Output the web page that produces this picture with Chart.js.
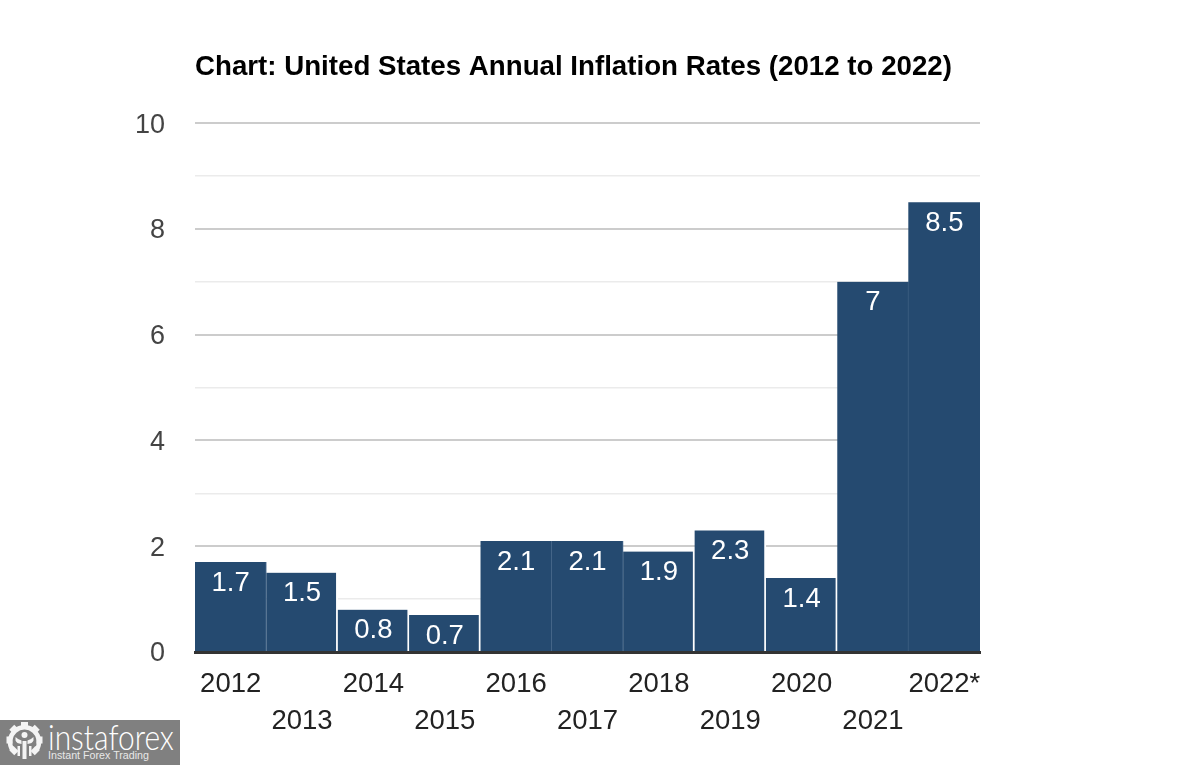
<!DOCTYPE html>
<html>
<head>
<meta charset="utf-8">
<title>United States Annual Inflation Rates</title>
<script src="https://cdn.jsdelivr.net/npm/chart.js@4/dist/chart.umd.min.js"></script>
<style>
html, body { margin: 0; padding: 0; background: #fff; }
#wrap { position: relative; width: 1200px; height: 765px; overflow: hidden; }
#logo { position: absolute; left: 0; top: 720px; width: 180px; height: 45px; background: #808080; color: #ffffff; overflow: hidden; }
#logo svg { position: absolute; left: 6px; top: 2px; }
#logo .name { position: absolute; left: 48px; top: -3px; font: 300 35px Lato, sans-serif; line-height: 38px; transform: scaleX(0.855); transform-origin: left top; white-space: nowrap; }
#logo .sub { position: absolute; left: 48px; top: 28px; font: 10.7px "Liberation Sans", sans-serif; line-height: 14px; color: #e8e8e8; white-space: nowrap; }
</style>
</head>
<body>
<div id="wrap">
  <canvas id="inflationChart" width="1200" height="765"></canvas>
  <div id="logo">
    <svg width="37" height="38" viewBox="0 0 36 38">
      <g fill="#f4f4f4">
        <rect x="14.5" y="0" width="7" height="6"/>
        <rect x="14.5" y="0" width="7" height="6" transform="rotate(45 18 18)"/>
        <rect x="14.5" y="0" width="7" height="6" transform="rotate(-45 18 18)"/>
        <rect x="14.5" y="0" width="7" height="6" transform="rotate(90 18 18)"/>
        <rect x="14.5" y="0" width="7" height="6" transform="rotate(-90 18 18)"/>
        <rect x="14.5" y="0" width="7" height="6" transform="rotate(135 18 18)"/>
        <rect x="14.5" y="0" width="7" height="6" transform="rotate(-135 18 18)"/>
      </g>
      <path d="M6 28 A14.5 14.5 0 1 1 30 28" fill="none" stroke="#f4f4f4" stroke-width="4.5"/>
      <circle cx="18" cy="13" r="3" fill="#f4f4f4"/>
      <path d="M16 19 h4 v18 h-4z M9 15 q3 3 6 3.5 v3.5 q-5 -0.5 -6 -3.5z M27 15 q-3 3 -6 3.5 v3.5 q5 -0.5 6 -3.5z M11 24 h2.5 v10 h-2.5z M22.5 24 h2.5 v10 h-2.5z" fill="#f4f4f4"/>
    </svg>
    <div class="name">instaforex</div>
    <div class="sub">Instant Forex Trading</div>
  </div>
</div>
<script>
// Chart data
const years = ['2012', '2013', '2014', '2015', '2016', '2017', '2018', '2019', '2020', '2021', '2022*'];
const rates = [1.7, 1.5, 0.8, 0.7, 2.1, 2.1, 1.9, 2.3, 1.4, 7, 8.5];
const chartTitle = 'Chart: United States Annual Inflation Rates (2012 to 2022)';

const fontFamily = '"Liberation Sans", Arial, sans-serif';
const barColor = '#254a70';

// Bars followed by a white gap, the others only have a faint seam
const whiteGapAfter = [1, 2, 3, 6, 7, 8];

// Value labels inside the top of each bar
const barLabels = {
    id: 'barLabels',
    afterDatasetsDraw(chart) {
        const ctx = chart.ctx;
        const bars = chart.getDatasetMeta(0).data;
        ctx.save();
        ctx.fillStyle = '#ffffff';
        ctx.font = '27.5px ' + fontFamily;
        ctx.textAlign = 'center';
        ctx.textBaseline = 'middle';
        bars.forEach((bar, i) => {
            ctx.fillText(String(rates[i]), bar.x, bar.y + 21);
        });
        ctx.restore();
    }
};

const ctx = document.getElementById('inflationChart').getContext('2d');
new Chart(ctx, {
    type: 'bar',
    data: {
        labels: years,
        datasets: [{
            data: rates,
            backgroundColor: barColor,
            barPercentage: 1,
            categoryPercentage: 1,
            borderColor: c => (whiteGapAfter.includes(c.dataIndex) ? '#ffffff' : '#4f6f92'),
            borderWidth: c => ({
                left: 0,
                top: 0,
                bottom: 0,
                right: c.dataIndex === years.length - 1 ? 0 : (whiteGapAfter.includes(c.dataIndex) ? 2 : 1)
            })
        }]
    },
    plugins: [barLabels],
    options: {
        responsive: false,
        animation: false,
        layout: { padding: { left: 121, right: 220, top: 0, bottom: 0 } },
        plugins: {
            legend: { display: false },
            tooltip: { enabled: false },
            title: {
                display: true,
                text: chartTitle,
                align: 'start',
                fullSize: false,
                color: '#000000',
                font: { family: fontFamily, size: 27.7, weight: 'bold' },
                padding: { top: 51, bottom: 39 }
            }
        },
        scales: {
            x: {
                grid: { display: false },
                border: { color: '#333333', width: 3, z: 1 },
                afterFit(scale) { scale.height = 113; },
                ticks: {
                    color: '#222222',
                    font: { family: fontFamily, size: 27.5, lineHeight: 1.345 },
                    maxRotation: 0,
                    autoSkip: false,
                    padding: 6,
                    // staggered year labels on two rows
                    callback(value, index) {
                        return index % 2 === 0 ? [years[index], ''] : ['', years[index]];
                    }
                }
            },
            y: {
                min: 0,
                max: 10,
                afterFit(scale) { scale.width = 74; },
                border: { display: false },
                grid: {
                    drawTicks: false,
                    lineWidth: c => (c.tick.value % 2 === 0 ? 2 : 1.5),
                    color: c => (c.tick.value % 2 === 0 ? '#cccccc' : '#ebebeb')
                },
                ticks: {
                    stepSize: 1,
                    color: '#444444',
                    padding: 30,
                    labelOffset: 2,
                    font: { family: fontFamily, size: 27 },
                    callback: value => (value % 2 === 0 ? String(value) : '')
                }
            }
        }
    }
});
</script>
</body>
</html>
